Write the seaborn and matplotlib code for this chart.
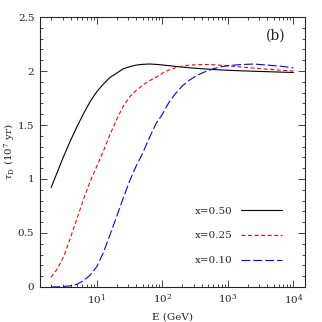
import numpy as np
import pandas as pd
import matplotlib
matplotlib.use('Agg')
import matplotlib.pyplot as plt
import seaborn as sns

# Energies (GeV) on a log grid
energy = [2.0, 2.51, 3.16, 3.98, 5.01, 6.31, 7.94, 10.0, 12.6, 15.8, 20.0, 25.1,
          31.6, 39.8, 50.1, 63.1, 79.4, 100.0, 126, 158, 200, 251, 316, 398,
          501, 631, 794, 1000, 1585, 2512, 3981, 6310, 10000]

tau_x050 = [0.92, 1.07, 1.22, 1.36, 1.49, 1.61, 1.72, 1.81, 1.88, 1.94, 1.98, 2.02,
            2.04, 2.055, 2.062, 2.065, 2.062, 2.056, 2.05, 2.043, 2.037, 2.031,
            2.026, 2.021, 2.017, 2.013, 2.01, 2.007, 2.002, 1.998, 1.994, 1.99, 1.987]

tau_x025 = [0.09, 0.17, 0.29, 0.46, 0.64, 0.82, 0.98, 1.12, 1.26, 1.41, 1.55, 1.67,
            1.76, 1.82, 1.87, 1.91, 1.94, 1.98, 2.01, 2.03, 2.045, 2.053, 2.058,
            2.06, 2.06, 2.058, 2.053, 2.048, 2.037, 2.027, 2.017, 2.008, 2.0]

tau_x010 = [0.0, 0.0, 0.005, 0.01, 0.025, 0.06, 0.11, 0.19, 0.32, 0.48, 0.65, 0.82,
            0.98, 1.12, 1.24, 1.38, 1.51, 1.60, 1.71, 1.79, 1.86, 1.91, 1.95,
            1.98, 2.005, 2.025, 2.04, 2.05, 2.06, 2.065, 2.055, 2.045, 2.03]

labels = ['x=0.50', 'x=0.25', 'x=0.10']

df = pd.concat([
    pd.DataFrame({'E': energy, 'tau': tau_x050, 'case': labels[0]}),
    pd.DataFrame({'E': energy, 'tau': tau_x025, 'case': labels[1]}),
    pd.DataFrame({'E': energy, 'tau': tau_x010, 'case': labels[2]}),
])

sns.set_style('ticks')
plt.rcParams['font.family'] = ['DejaVu Serif']
plt.rcParams['mathtext.fontset'] = 'dejavuserif'
plt.rcParams['font.size'] = 7.5

fig = plt.figure(figsize=(3.22, 3.22), dpi=100)
ax = fig.add_axes([0.124, 0.109, 0.823, 0.838])

sns.lineplot(data=df, x='E', y='tau', hue='case', style='case',
             palette={labels[0]: 'black', labels[1]: 'red', labels[2]: 'blue'},
             dashes={labels[0]: '', labels[1]: (3.6, 2.3), labels[2]: (8, 2.7)},
             linewidth=0.8, ax=ax)

ax.set_xscale('log')
ax.set_xlim(1.35, 1.5e4)
ax.set_ylim(0, 2.5)
ax.set_yticks([0, 0.5, 1, 1.5, 2, 2.5])
ax.set_yticklabels(['0', '0.5', '1', '1.5', '2', '2.5'])
ax.yaxis.set_minor_locator(matplotlib.ticker.MultipleLocator(0.1))
ax.tick_params(which='both', direction='in', top=True, right=True, width=0.6,
               labelsize=7.5, pad=4)
ax.tick_params(which='major', length=5)
ax.tick_params(which='minor', length=2.5)
for s in ax.spines.values():
    s.set_linewidth(0.8)

ax.set_xlabel('E (GeV)', fontsize=7.5)
ax.set_ylabel(r'$\tau_{\rm D}$ (10$^7$ yr)', fontsize=7.5)
ax.yaxis.set_label_coords(-0.088, 0.5)

ax.text(0.89, 0.93, '(b)', transform=ax.transAxes, ha='center', va='center', fontsize=10)

leg = ax.legend(loc='lower right', bbox_to_anchor=(0.95, 0.045), frameon=False,
                markerfirst=False, handlelength=4.0, labelspacing=1.5,
                handletextpad=0.8, fontsize=7.5)

fig.savefig('out.png', dpi=100)
